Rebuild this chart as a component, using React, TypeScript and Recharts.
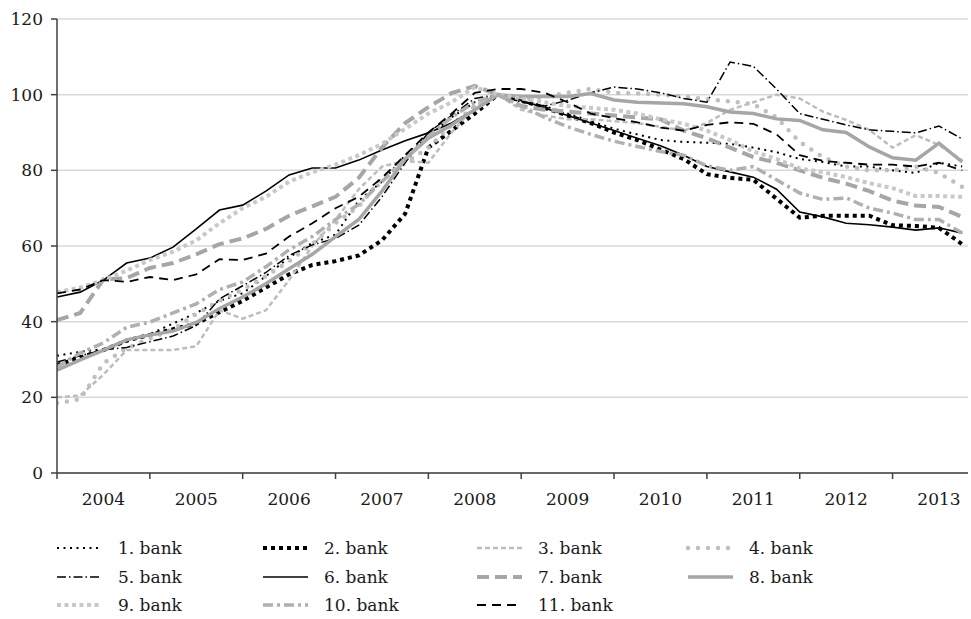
import { LineChart, Line, XAxis, YAxis, CartesianGrid } from "recharts";

const YEARS = [2004, 2005, 2006, 2007, 2008, 2009, 2010, 2011, 2012, 2013];
const Y_TICKS = [0, 20, 40, 60, 80, 100, 120];

// quarterly index values, 2004 Q1 .. 2013 Q4
const bank1 = [31, 32, 32.8, 34.7, 36.7, 39.5, 42.3, 45.5, 47.5, 52, 57, 60.8, 63, 72, 77, 84, 89, 94, 98, 100, 98.5, 97, 95, 93, 91, 89.5, 88, 87.5, 87.3, 87, 86, 84.8, 83, 82.2, 81, 81, 80, 79.3, 82, 81];
const bank2 = [28.5, 30.5, 32.5, 35, 36.5, 38, 39.5, 42.5, 45.5, 49, 52.5, 55, 56, 57.5, 61.5, 68.5, 86, 90.5, 95, 100, 98.5, 96.5, 94.5, 92.5, 90, 88, 85.5, 83, 79, 78, 77.5, 72.5, 67.5, 68, 68, 68, 65.5, 65.3, 64.8, 60.5];
const bank3 = [20, 20.5, 26, 32.5, 32.5, 32.5, 33.5, 43, 40.8, 43, 51, 60, 67, 75, 81, 82.5, 82, 90, 97, 100, 96, 94.5, 93.5, 93.5, 93, 92.5, 91.5, 90.5, 92.5, 96, 98, 100, 99, 95.5, 93.3, 90.7, 86, 89.3, 86.7, 82.7];
const bank4 = [18.5, 19.5, 29, 33, 35.5, 38, 42, 45.5, 48.5, 52, 56, 60.5, 66, 70.5, 78, 82, 86, 92, 97, 100, 98.5, 99.5, 100.5, 101.5, 100.5, 100.3, 100, 99.5, 98.8, 98.2, 97.5, 94, 87.5, 83.5, 81, 80, 80, 81, 79.3, 75.6];
const bank5 = [29.3, 31, 32.5, 33.2, 34.7, 36.2, 39, 46, 49.5, 53, 57.5, 60.3, 62, 65.5, 73, 82, 90, 94.5, 99, 100, 98, 97, 98.5, 100.5, 102, 101.5, 100.5, 99, 98, 108.6, 107.5, 101.5, 95, 93.5, 92, 90.7, 90.3, 89.9, 91.7, 88.3];
const bank6 = [46.5, 47.8, 51, 55.5, 56.8, 59.7, 64.5, 69.5, 70.8, 74.5, 78.8, 80.6, 80.6, 82.7, 85.4, 87.8, 89.9, 92.5, 96, 100, 98.5, 96.5, 94.5, 92.5, 90.5, 88.5, 86.5, 84, 81, 79.6, 78.2, 75, 69, 67.7, 66, 65.6, 65, 64.2, 64.8, 63.4];
const bank7 = [40.4, 42.3, 51.2, 51.5, 54.2, 55.5, 57.8, 60.5, 62, 64.5, 68, 70.5, 73, 78, 86, 92.5, 96.7, 100.4, 102.3, 100, 97, 96, 95.5, 95, 94.5, 94, 93.5, 90.5, 88.5, 86, 83.5, 82, 80, 78, 76.5, 74.5, 72, 70.7, 70.3, 67.7];
const bank8 = [27.2, 29.9, 32.5, 35.2, 36.5, 37.5, 39.8, 43.5, 46.5, 50, 54, 57.8, 62.5, 67, 74.5, 83, 88.5, 92, 96, 100, 99.5, 99.5, 99.5, 100.3, 98.6, 98, 97.8, 97.6, 96.8, 95.4, 95, 93.6, 93.2, 90.7, 90, 86.2, 83.3, 82.7, 87.2, 82.2];
const bank9 = [47.8, 49, 51, 53.5, 56.3, 58.5, 61.5, 66, 70, 73, 77, 79.5, 81.5, 84, 87, 91, 95, 98, 102, 100, 99, 98, 97, 96.5, 96, 95, 93.5, 92.3, 90.5, 88, 85, 83, 80.5, 79.5, 78.2, 76.6, 75.3, 73.2, 73.2, 73];
const bank10 = [28, 31.7, 34.4, 38.5, 39.9, 42.3, 44.7, 48.5, 50.5, 54.5, 59, 62.5, 67, 71, 77, 83, 89, 94, 98, 100, 97, 94, 91.5, 89.5, 87.7, 86.3, 85, 84, 81.2, 80, 81, 77.5, 74, 72.3, 72.7, 70, 68.7, 67, 67, 63.4];
const bank11 = [47.5, 48.5, 51, 50.5, 51.8, 51, 52.5, 56.5, 56.3, 58, 62.5, 66, 70, 73, 78, 84, 90, 95, 100.5, 101.5, 101.5, 100.5, 98, 95, 93.8, 92.7, 91.3, 90.5, 92, 92.7, 92.3, 89.5, 84, 82.5, 82, 81.5, 81.5, 81, 82, 80];

const SERIES = [
  { key: "b1", name: "1. bank", values: bank1, color: "#000", width: 2, dash: "2 4.5", cap: "butt" },
  { key: "b2", name: "2. bank", values: bank2, color: "#000", width: 4, dash: "4 4", cap: "butt" },
  { key: "b3", name: "3. bank", values: bank3, color: "#bdbdbd", width: 2.5, dash: "5 3", cap: "butt" },
  { key: "b4", name: "4. bank", values: bank4, color: "#bfbfbf", width: 4.5, dash: "0 10", cap: "round" },
  { key: "b5", name: "5. bank", values: bank5, color: "#000", width: 1.5, dash: "9 3 1.5 3", cap: "butt" },
  { key: "b6", name: "6. bank", values: bank6, color: "#000", width: 1.6, dash: undefined, cap: "butt" },
  { key: "b7", name: "7. bank", values: bank7, color: "#a6a6a6", width: 4, dash: "12 6", cap: "butt" },
  { key: "b8", name: "8. bank", values: bank8, color: "#a6a6a6", width: 3.5, dash: undefined, cap: "butt" },
  { key: "b9", name: "9. bank", values: bank9, color: "#c8c8c8", width: 4, dash: "4 3.5", cap: "butt" },
  { key: "b10", name: "10. bank", values: bank10, color: "#b0b0b0", width: 3.5, dash: "10 4 3 4", cap: "butt" },
  { key: "b11", name: "11. bank", values: bank11, color: "#000", width: 1.8, dash: "9 6", cap: "butt" },
];

const W = 971;
const H = 619;
const MARGIN = { top: 19, right: 3, left: 0, bottom: 116 };
const Y_AXIS_W = 57;
const X_AXIS_H = 30;
const X_MAX = 39.25;
const PLOT_W = W - MARGIN.left - MARGIN.right - Y_AXIS_W;
const HALF_YEAR = (2 * PLOT_W) / X_MAX;
const FONT = "'DejaVu Serif', serif";

const rows = bank1.map((_, i) => {
  const row: any = { t: i };
  for (const s of SERIES) row[s.key] = s.values[i];
  return row;
});
const yearTicks = YEARS.map((_, i) => i * 4);

function YearTick(props: any) {
  const { x, y, payload, index } = props;
  return (
    <text x={x + HALF_YEAR} y={y} dy="0.71em" textAnchor="middle" fontSize={17} fontFamily={FONT} fill="#1a1a1a">
      {YEARS[index ?? Math.round(payload.value / 4)]}
    </text>
  );
}

const LEG_COLS = [57, 263, 477, 688];
const LEG_ROWS = [548, 577, 605];

function LegendOverlay() {
  return (
    <svg width={W} height={H} style={{ position: "absolute", left: 0, top: 0, pointerEvents: "none" }}>
      {SERIES.map((s, i) => {
        const x = LEG_COLS[i % 4];
        const y = LEG_ROWS[Math.floor(i / 4)];
        return (
          <g key={s.key}>
            <line x1={x} x2={x + 45} y1={y} y2={y} stroke={s.color} strokeWidth={s.width}
              strokeDasharray={s.dash} strokeLinecap={s.cap as any} />
            <text x={x + 61} y={y + 6} fontSize={17} fontFamily={FONT} fill="#1a1a1a">{s.name}</text>
          </g>
        );
      })}
    </svg>
  );
}

export default function App() {
  return (
    <div style={{ position: "relative", width: W, height: H, background: "#fff" }}>
      <style>{`body{margin:0}`}</style>
      <LineChart width={W} height={H} data={rows} margin={MARGIN}>
        <CartesianGrid vertical={false} stroke="#d9d9d9" strokeWidth={1.5} />
        <XAxis dataKey="t" type="number" domain={[0, X_MAX]} ticks={yearTicks} interval={0}
          height={X_AXIS_H} tickSize={6} tickMargin={14} stroke="#404040" strokeWidth={1.5}
          tick={<YearTick />} allowDataOverflow />
        <YAxis domain={[0, 120]} ticks={Y_TICKS} width={Y_AXIS_W} tickSize={6} tickMargin={8}
          stroke="#404040" strokeWidth={1.5}
          tick={{ fontSize: 17, fontFamily: FONT, fill: "#1a1a1a" }} />
        {SERIES.map((s) => (
          <Line key={s.key} dataKey={s.key} name={s.name} type="linear" stroke={s.color}
            strokeWidth={s.width} strokeDasharray={s.dash} strokeLinecap={s.cap as any}
            dot={false} activeDot={false} isAnimationActive={false} />
        ))}
      </LineChart>
      <LegendOverlay />
    </div>
  );
}
